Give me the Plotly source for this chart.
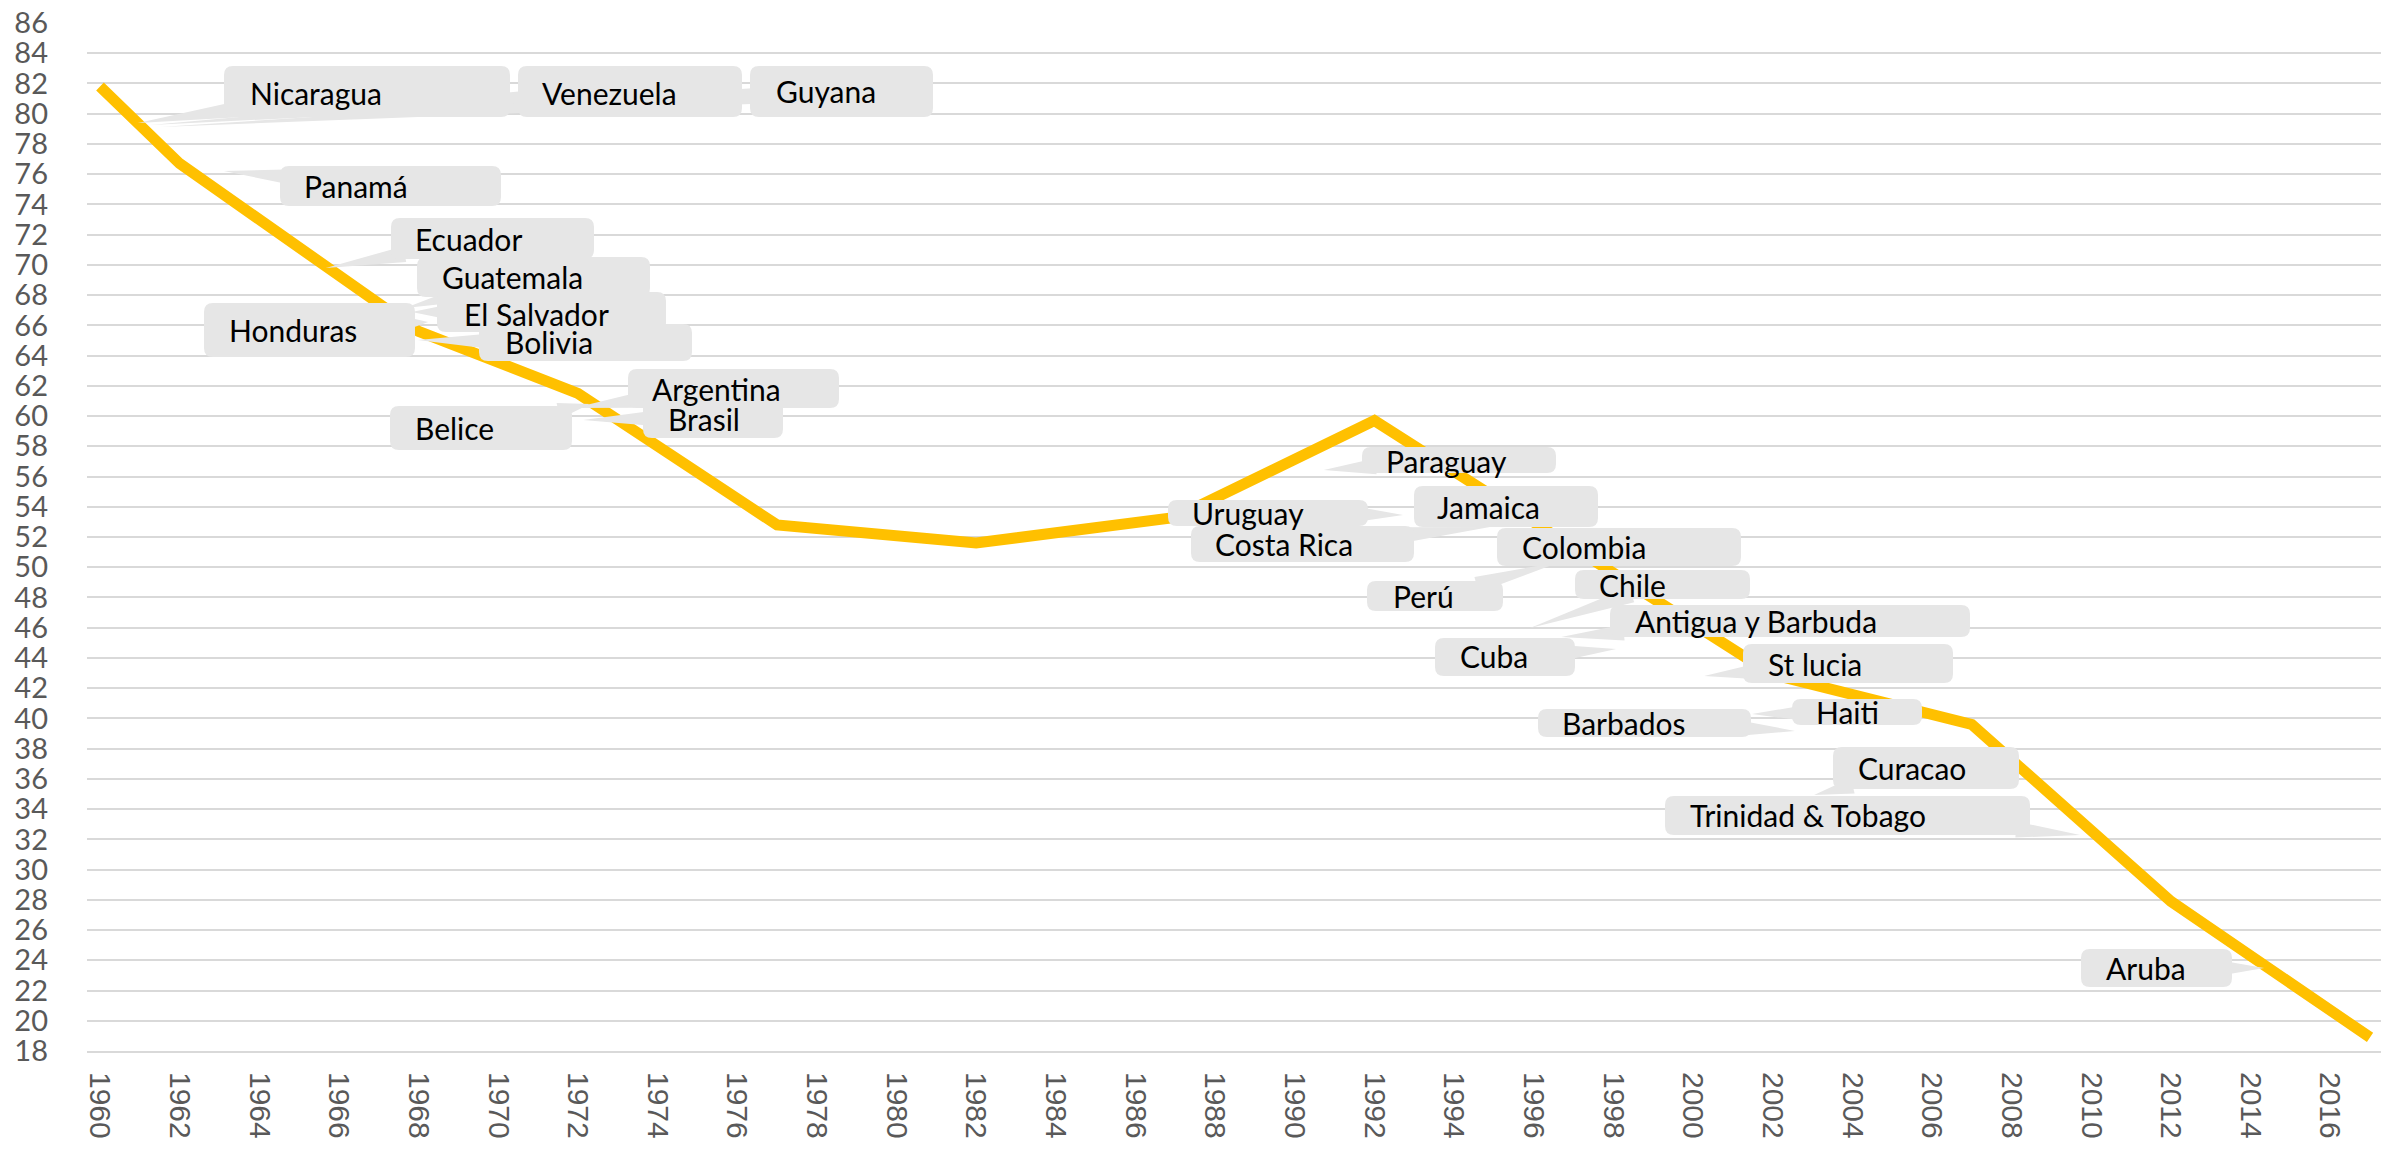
import math
import plotly.graph_objects as go

# ---------------- data ----------------
years = [1960, 1962, 1968, 1972, 1977, 1982, 1987, 1992, 2002, 2007, 2012, 2017]
values = [81.8, 76.7, 65.6, 61.5, 52.8, 51.6, 53.3, 59.7, 42.9, 39.6, 27.9, 18.9]

x_tick_years = list(range(1960, 2018, 2))
y_tick_values = list(range(18, 88, 2))

countries = ["Nicaragua", "Venezuela", "Guyana", "Panamá", "Ecuador", "Guatemala",
             "Honduras", "El Salvador", "Bolivia", "Argentina", "Brasil", "Belice",
             "Paraguay", "Uruguay", "Costa Rica", "Jamaica", "Colombia", "Perú",
             "Chile", "Antigua y Barbuda", "Cuba", "St lucia", "Barbados", "Haiti",
             "Curacao", "Trinidad & Tobago", "Aruba"]
# point each callout refers to (year, value); None = pointer hidden under its own box
callout_year = [1960.95, 1961.26, 1961.51, 1963.11, 1965.67, 1967.66,
                1968.24, 1967.83, 1967.98, 1971.90, 1972.13, 1972.30,
                1990.73, 1992.72, 1994.90, None, None, 1996.66,
                1995.91, 1996.69, 1998.07, 2000.28, 2002.56, 2001.48,
                2003.04, 2009.72, 2014.34]
callout_value = [79.39, 79.25, 79.12, 76.21, 69.79, 67.15,
                 66.22, 66.88, 65.03, 60.53, 59.74, 60.80,
                 56.43, 53.46, 52.66, None, None, 50.35,
                 45.98, 45.39, 44.59, 42.81, 39.17, 40.29,
                 34.93, 32.29, 23.49]

# ---------------- layout ----------------
PAGE_W, PAGE_H = 2389, 1153
OFF = 8                      # default page margin around the figure div
FIG_W, FIG_H = PAGE_W - 2 * OFF, PAGE_H - 2 * OFF
# plot area in page pixels
L, R, T, B = 87, OFF + FIG_W, 23, 1051
PX_PER_YEAR = 39.825
X0 = 1960 - (100 - L) / PX_PER_YEAR
X1 = 1960 + (R - 100) / PX_PER_YEAR
Y0, Y1 = 18, 86

# box [x0, y0, x1, y1], text left x, text centre y  (page pixels)
box_px = [
    ([224, 66, 510, 117], 248, 93),
    ([518, 66, 742, 117], 540, 93),
    ([750, 66, 933, 117], 774, 91),
    ([280, 166, 501, 206], 302, 186),
    ([391, 218, 594, 259], 413, 239),
    ([417, 257, 650, 297], 440, 277),
    ([204, 303, 415, 357], 227, 330),
    ([437, 292, 666, 332], 462, 314),
    ([479, 324, 692, 361], 503, 342),
    ([628, 369, 839, 408], 650, 389),
    ([643, 396, 783, 438], 666, 419),
    ([390, 406, 572, 450], 413, 428),
    ([1362, 447, 1556, 473], 1384, 461),
    ([1168, 500, 1368, 526], 1190, 513),
    ([1191, 526, 1414, 562], 1213, 544),
    ([1414, 486, 1598, 527], 1435, 507),
    ([1497, 528, 1741, 566], 1520, 547),
    ([1367, 581, 1503, 611], 1391, 596),
    ([1575, 570, 1750, 599], 1597, 585),
    ([1610, 605, 1970, 637], 1633, 621),
    ([1435, 638, 1575, 676], 1458, 656),
    ([1743, 644, 1953, 683], 1766, 664),
    ([1538, 709, 1751, 737], 1560, 723),
    ([1792, 699, 1922, 725], 1814, 712),
    ([1833, 747, 2019, 789], 1856, 768),
    ([1665, 796, 2030, 835], 1688, 815),
    ([2081, 949, 2232, 987], 2104, 968),
]

BOX_COLOR = "#E6E6E6"
RADIUS = 9


def px2x(px):
    return X0 + (px - L) / (R - L) * (X1 - X0)


def py2y(py):
    return Y1 - (py - T) / (B - T) * (Y1 - Y0)


def x2px(x):
    return L + (x - X0) / (X1 - X0) * (R - L)


def y2py(y):
    return T + (Y1 - y) / (Y1 - Y0) * (B - T)


def P(px, py):
    return f"{px2x(px):.5f},{py2y(py):.5f}"


def rounded_rect(x0, y0, x1, y1, r):
    return ("M " + P(x0 + r, y0) + " L " + P(x1 - r, y0) + " Q " + P(x1, y0) + " " + P(x1, y0 + r) +
            " L " + P(x1, y1 - r) + " Q " + P(x1, y1) + " " + P(x1 - r, y1) +
            " L " + P(x0 + r, y1) + " Q " + P(x0, y1) + " " + P(x0, y1 - r) +
            " L " + P(x0, y0 + r) + " Q " + P(x0, y0) + " " + P(x0 + r, y0) + " Z")


def wedge(box, tip):
    x0, y0, x1, y1 = box
    cx, cy = (x0 + x1) / 2, (y0 + y1) / 2
    tx, ty = tip
    dx, dy = tx - cx, ty - cy
    d = math.hypot(dx, dy)
    ux, uy = dx / d, dy / d
    ts = []
    if abs(dx) > 1e-9:
        ts.append(((x1 if dx > 0 else x0) - cx) / dx)
    if abs(dy) > 1e-9:
        ts.append(((y1 if dy > 0 else y0) - cy) / dy)
    t = min(ts)
    ex, ey = cx + dx * t, cy + dy * t
    bx, by = ex - 14 * ux, ey - 14 * uy
    nx, ny = -uy, ux
    hw = 8
    return ("M " + P(tx, ty) + " L " + P(bx + hw * nx, by + hw * ny) +
            " L " + P(bx - hw * nx, by - hw * ny) + " Z")


fig = go.Figure()
fig.add_trace(go.Scatter(
    x=years, y=values, mode="lines",
    line=dict(color="#FFC000", width=11),
    hoverinfo="skip", showlegend=False,
))

shapes = []
annotations = []
for i, name in enumerate(countries):
    box, tx, tyc = box_px[i]
    if callout_year[i] is not None:
        tip = (x2px(callout_year[i]), y2py(callout_value[i]))
        shapes.append(dict(type="path", xref="x", yref="y", layer="above",
                           path=wedge(box, tip), fillcolor=BOX_COLOR,
                           line=dict(width=0)))
for i, name in enumerate(countries):
    box, tx, tyc = box_px[i]
    shapes.append(dict(type="path", xref="x", yref="y", layer="above",
                       path=rounded_rect(*box, RADIUS), fillcolor=BOX_COLOR,
                       line=dict(width=0)))
    annotations.append(dict(x=px2x(tx), y=py2y(tyc), xref="x", yref="y",
                            text=name, showarrow=False, xanchor="left",
                            yanchor="middle",
                            font=dict(family="Lato, 'Open Sans', sans-serif",
                                      size=30, color="#000000")))

fig.update_layout(
    width=FIG_W, height=FIG_H, autosize=False,
    margin=dict(l=L - OFF, r=OFF + FIG_W - R, t=T - OFF, b=OFF + FIG_H - B, pad=0),
    paper_bgcolor="white", plot_bgcolor="white",
    shapes=shapes, annotations=annotations,
    showlegend=False,
    xaxis=dict(range=[X0, X1], tickmode="array", tickvals=x_tick_years,
               ticktext=[str(v) for v in x_tick_years], tickangle=90,
               showgrid=False, zeroline=False, showline=True,
               linecolor="#D9D9D9", linewidth=2, ticks="",
               ticklabelstandoff=13, automargin=False,
               ticklabeloverflow="allow",
               tickfont=dict(family="Liberation Sans, Arial, sans-serif",
                             size=30, color="#595959")),
    yaxis=dict(range=[Y0, Y1], tickmode="array", tickvals=y_tick_values,
               ticktext=[str(v) for v in y_tick_values],
               showgrid=True, gridcolor="#D9D9D9", gridwidth=2,
               zeroline=False, showline=False, ticks="",
               ticklabelstandoff=38, automargin=False,
               ticklabeloverflow="allow",
               tickfont=dict(family="Lato, 'Open Sans', sans-serif",
                             size=29, color="#595959")),
)

fig.write_html("out.html")
